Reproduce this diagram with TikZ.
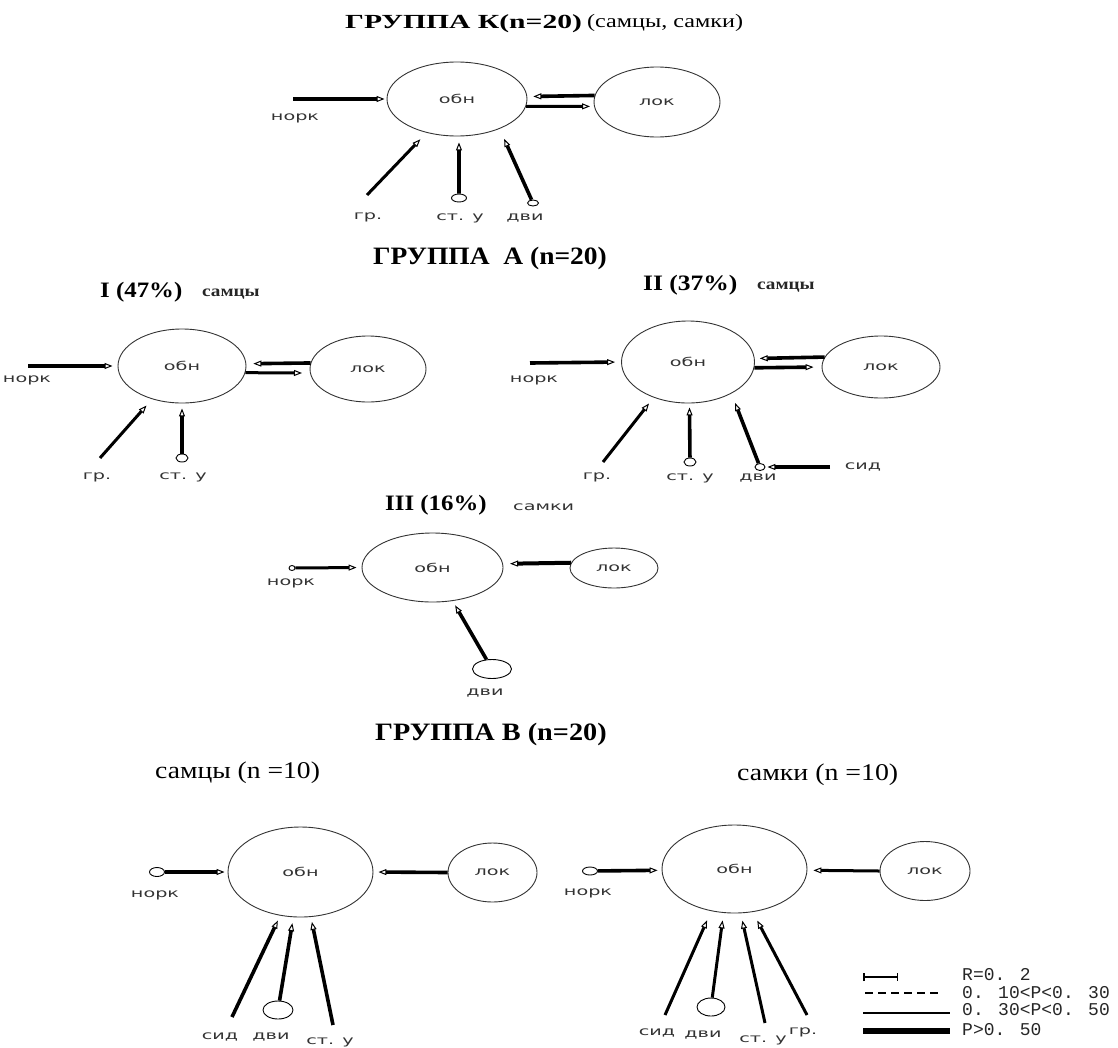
\documentclass[tikz,border=0pt]{standalone}
\usepackage{graphicx}
\usepackage{fontspec}
\setmainfont{Liberation Serif}
\newfontfamily\lblfont[FakeStretch=1.6]{DejaVu Sans}
\newfontfamily\legfont{Liberation Mono}
\usetikzlibrary{shapes.geometric,arrows.meta}
\tikzset{
  bigell/.style={draw=black!80, line width=0.9pt, ellipse, inner sep=0pt,
    font=\lblfont\fontsize{12}{12}\selectfont, text=black!80},
  endell/.style={draw=black, line width=0.9pt, ellipse, inner sep=0pt},
  conn/.style={line width=3pt, -{Triangle[open,length=8pt,width=6pt,line width=1pt]}},
  heavy/.style={line width=3.6pt},
  lbl/.style={font=\lblfont\fontsize{12}{12}\selectfont, text=black!80, inner sep=0pt},
  bigttl/.style={font=\fontsize{25}{28}\selectfont\bfseries, inner sep=0pt, anchor=base west},
  subttl/.style={font=\fontsize{22}{26}\selectfont\bfseries, inner sep=0pt, anchor=base west},
  sexttl/.style={font=\fontsize{24}{28}\selectfont, inner sep=0pt, anchor=base west},
  smallsex/.style={font=\fontsize{16}{19}\selectfont\bfseries, text=black!85, inner sep=0pt, anchor=base west},
  legtxt/.style={font=\legfont\fontsize{18}{18}\selectfont, text=black!85, inner sep=0pt, anchor=west}
}
\begin{document}
\begin{tikzpicture}[x=1pt,y=-1pt]
\useasboundingbox (0,0) rectangle (1118,1047);

% ===== Group K =====
\node[anchor=base west, inner sep=0pt, font=\fontsize{20}{24}\selectfont\bfseries] (TK1) at (345,28) {\scalebox{1.48}[1]{ГРУППА К(n=20)}};
\node[anchor=base west, inner sep=0pt, font=\fontsize{19}{22}\selectfont] (TK2) at (587,27) {\scalebox{1.27}[1]{(самцы, самки)}};
\node[bigell, minimum width=140pt, minimum height=74pt] (K-obn) at (457,99) {обн};
\node[bigell, minimum width=126pt, minimum height=70pt] (K-lok) at (657,102) {лок};
\coordinate (K-norkS) at (293,99);
\node[lbl] (K-norkL) at (295,118) {норк};
\draw[conn, heavy, shorten >=2pt] (K-norkS) -- (K-obn.180);
\draw[conn, heavy, shorten >=6pt] (K-lok.174) -- (K-obn.2.5);
\draw[conn, shorten >=4pt] (K-obn.-6.6) -- (K-lok.184.6);
\coordinate (K-grS) at (367,195);
\node[lbl] (K-grL) at (368,217) {гр.};
\draw[conn, shorten >=9pt] (K-grS) -- (K-obn.228);
\node[endell, minimum width=15pt, minimum height=8pt] (K-stu) at (459,198) {};
\node[lbl] (K-stuL) at (460,218) {ст. у};
\draw[conn, heavy, shorten >=6pt] (K-stu) -- (K-obn.273);
\node[endell, minimum width=11pt, minimum height=6pt] (K-dvi) at (533,203) {};
\node[lbl] (K-dviL) at (525,218) {дви};
\draw[conn, heavy, shorten >=11pt] (K-dvi) -- (K-obn.-35);

% ===== Group A =====
\node[bigttl] (TA) at (373,264) {\scalebox{1.1}[1]{ГРУППА\ \ А (n=20)}};

% --- I ---
\node[subttl] (TA1) at (100,297) {\scalebox{1.13}[1]{I (47\%)}};
\node[smallsex] (TA1s) at (202,296) {\scalebox{1.2}[1]{самцы}};
\node[bigell, minimum width=128pt, minimum height=74pt] (AI-obn) at (182,366) {обн};
\node[bigell, minimum width=116pt, minimum height=66pt] (AI-lok) at (368,369) {лок};
\coordinate (AI-norkS) at (28,366);
\node[lbl] (AI-norkL) at (27,380) {норк};
\draw[conn, heavy, shorten >=5pt] (AI-norkS) -- (AI-obn.180);
\draw[conn, heavy, shorten >=7pt] (AI-lok.174) -- (AI-obn.2.7);
\draw[conn, shorten >=8pt] (AI-obn.-6.3) -- (AI-lok.184);
\coordinate (AI-grS) at (100,458);
\node[lbl] (AI-grL) at (97,477) {гр.};
\draw[conn, shorten >=8.5pt] (AI-grS) -- (AI-obn.228);
\node[endell, minimum width=12pt, minimum height=8pt] (AI-stu) at (182,458) {};
\node[lbl] (AI-stuL) at (183,477) {ст. у};
\draw[conn, heavy, shorten >=5pt] (AI-stu) -- (AI-obn.270);

% --- II ---
\node[subttl] (TA2) at (643,290) {\scalebox{1.16}[1]{II (37\%)}};
\node[smallsex] (TA2s) at (757,289) {\scalebox{1.2}[1]{самцы}};
\node[bigell, minimum width=133pt, minimum height=82pt] (AII-obn) at (688,362) {обн};
\node[bigell, minimum width=118pt, minimum height=62pt] (AII-lok) at (881,367) {лок};
\coordinate (AII-norkS) at (530,363);
\node[lbl] (AII-norkL) at (534,380) {норк};
\draw[conn, heavy, shorten >=6pt] (AII-norkS) -- (AII-obn.180);
\draw[conn, heavy, shorten >=5pt] (AII-lok.170.4) -- (AII-obn.3.4);
\draw[conn, heavy, shorten >=8pt] (AII-obn.-5.2) -- (AII-lok.180);
\coordinate (AII-grS) at (603,462);
\node[lbl] (AII-grL) at (597,477) {гр.};
\draw[conn, shorten >=7.5pt] (AII-grS) -- (AII-obn.226.3);
\node[endell, minimum width=12pt, minimum height=8pt] (AII-stu) at (690,462) {};
\node[lbl] (AII-stuL) at (690,478) {ст. у};
\draw[conn, heavy, shorten >=4pt] (AII-stu) -- (AII-obn.272);
\node[endell, minimum width=10pt, minimum height=7pt] (AII-dvi) at (760,467) {};
\node[lbl] (AII-dviL) at (758,478) {дви};
\draw[conn, heavy, shorten >=10pt] (AII-dvi) -- (AII-obn.-36);
\coordinate (AII-sidS) at (830,467);
\node[lbl] (AII-sidL) at (863,467) {сид};
\draw[conn, heavy, shorten >=2pt] (AII-sidS) -- (AII-dvi);

% --- III ---
\node[subttl] (TA3) at (385,510) {\scalebox{1.13}[1]{III (16\%)}};
\node[lbl, anchor=base west] (TA3s) at (513,510) {самки};
\node[bigell, minimum width=141pt, minimum height=69pt] (AIII-obn) at (432.5,567.5) {обн};
\node[bigell, minimum width=88pt, minimum height=40pt] (AIII-lok) at (614,568) {лок};
\node[endell, minimum width=6pt, minimum height=5pt] (AIII-nork) at (292,568) {};
\node[lbl] (AIII-norkL) at (291,583) {норк};
\draw[conn, shorten >=5pt] (AIII-nork) -- (AIII-obn.180);
\draw[conn, line width=4pt, shorten >=7pt] (AIII-lok.173.3) -- (AIII-obn.3.7);
\node[endell, minimum width=39pt, minimum height=19pt] (AIII-dvi) at (492,669) {};
\node[lbl] (AIII-dviL) at (485,693) {дви};
\draw[conn, heavy, shorten >=5pt] (AIII-dvi) -- (AIII-obn.-59);

% ===== Group B =====
\node[bigttl] (TB) at (375,740) {\scalebox{1.13}[1]{ГРУППА В (n=20)}};
\node[sexttl] (TB1) at (155,778) {\scalebox{1.15}[1]{самцы (n =10)}};
\node[sexttl] (TB2) at (737,780) {\scalebox{1.16}[1]{самки (n =10)}};

% --- males ---
\node[bigell, minimum width=145pt, minimum height=90pt] (BM-obn) at (300.5,872) {обн};
\node[bigell, minimum width=89pt, minimum height=59pt] (BM-lok) at (492.5,872.5) {лок};
\node[endell, minimum width=15pt, minimum height=9pt] (BM-nork) at (157,872) {};
\node[lbl] (BM-norkL) at (155,895) {норк};
\draw[conn, heavy, shorten >=3pt] (BM-nork) -- (BM-obn.180);
\draw[conn, heavy, shorten >=5pt] (BM-lok.180) -- (BM-obn.0);
\coordinate (BM-sidS) at (232,1017);
\node[lbl] (BM-sidL) at (220,1037) {сид};
\draw[conn, heavy, shorten >=5.4pt] (BM-sidS) -- (BM-obn.245.5);
\node[endell, minimum width=30pt, minimum height=18pt] (BM-dvi) at (278,1010) {};
\node[lbl] (BM-dviL) at (271,1037) {дви};
\draw[conn, heavy, shorten >=6pt] (BM-dvi) -- (BM-obn.261);
\coordinate (BM-stuS) at (333,1025);
\node[lbl] (BM-stuL) at (330,1042) {ст. у};
\draw[conn, heavy, shorten >=5pt] (BM-stuS) -- (BM-obn.283.8);

% --- females ---
\node[bigell, minimum width=145pt, minimum height=88pt] (BF-obn) at (734.5,869) {обн};
\node[bigell, minimum width=90pt, minimum height=59pt] (BF-lok) at (925,871) {лок};
\node[endell, minimum width=15pt, minimum height=8pt] (BF-nork) at (590,871) {};
\node[lbl] (BF-norkL) at (588,893) {норк};
\draw[conn, heavy, shorten >=4pt] (BF-nork) -- (BF-obn.181.6);
\draw[conn, shorten >=6pt] (BF-lok.180) -- (BF-obn.-1.6);
\coordinate (BF-sidS) at (665,1015);
\node[lbl] (BF-sidL) at (657,1033) {сид};
\draw[conn, shorten >=10pt] (BF-sidS) -- (BF-obn.241.9);
\node[endell, minimum width=28pt, minimum height=18pt] (BF-dvi) at (711,1007) {};
\node[lbl] (BF-dviL) at (703,1035) {дви};
\draw[conn, shorten >=7.5pt] (BF-dvi) -- (BF-obn.256.4);
\coordinate (BF-stuS) at (765,1023);
\node[lbl] (BF-stuL) at (763,1040) {ст. у};
\draw[conn, shorten >=7.5pt] (BF-stuS) -- (BF-obn.278.4);
\coordinate (BF-grS) at (807,1015);
\node[lbl] (BF-grL) at (803,1032) {гр.};
\draw[conn, shorten >=9.6pt] (BF-grS) -- (BF-obn.293.6);

% ===== Legend =====
\coordinate (L-r1) at (863,977); \coordinate (L-r2) at (898,977);
\coordinate (L-d1) at (865,993); \coordinate (L-d2) at (940,993);
\coordinate (L-t1) at (863,1013); \coordinate (L-t2) at (950,1013);
\coordinate (L-k1) at (863,1031); \coordinate (L-k2) at (950,1031);
\draw[line width=1.5pt, {Bar[width=8pt,line width=1.5pt]}-{Bar[width=8pt,line width=1.5pt]}] (L-r1) -- (L-r2);
\draw[line width=1.5pt, dash pattern=on 8pt off 5pt] (L-d1) -- (L-d2);
\draw[line width=1.5pt] (L-t1) -- (L-t2);
\draw[line width=6pt] (L-k1) -- (L-k2);
\node[legtxt] (L-rT) at (962,975) {R=0. 2};
\node[legtxt] (L-dT) at (962,993) {0. 10<P<0. 30};
\node[legtxt] (L-tT) at (962,1010) {0. 30<P<0. 50};
\node[legtxt] (L-kT) at (962,1030) {P>0. 50};
\end{tikzpicture}
\end{document}
